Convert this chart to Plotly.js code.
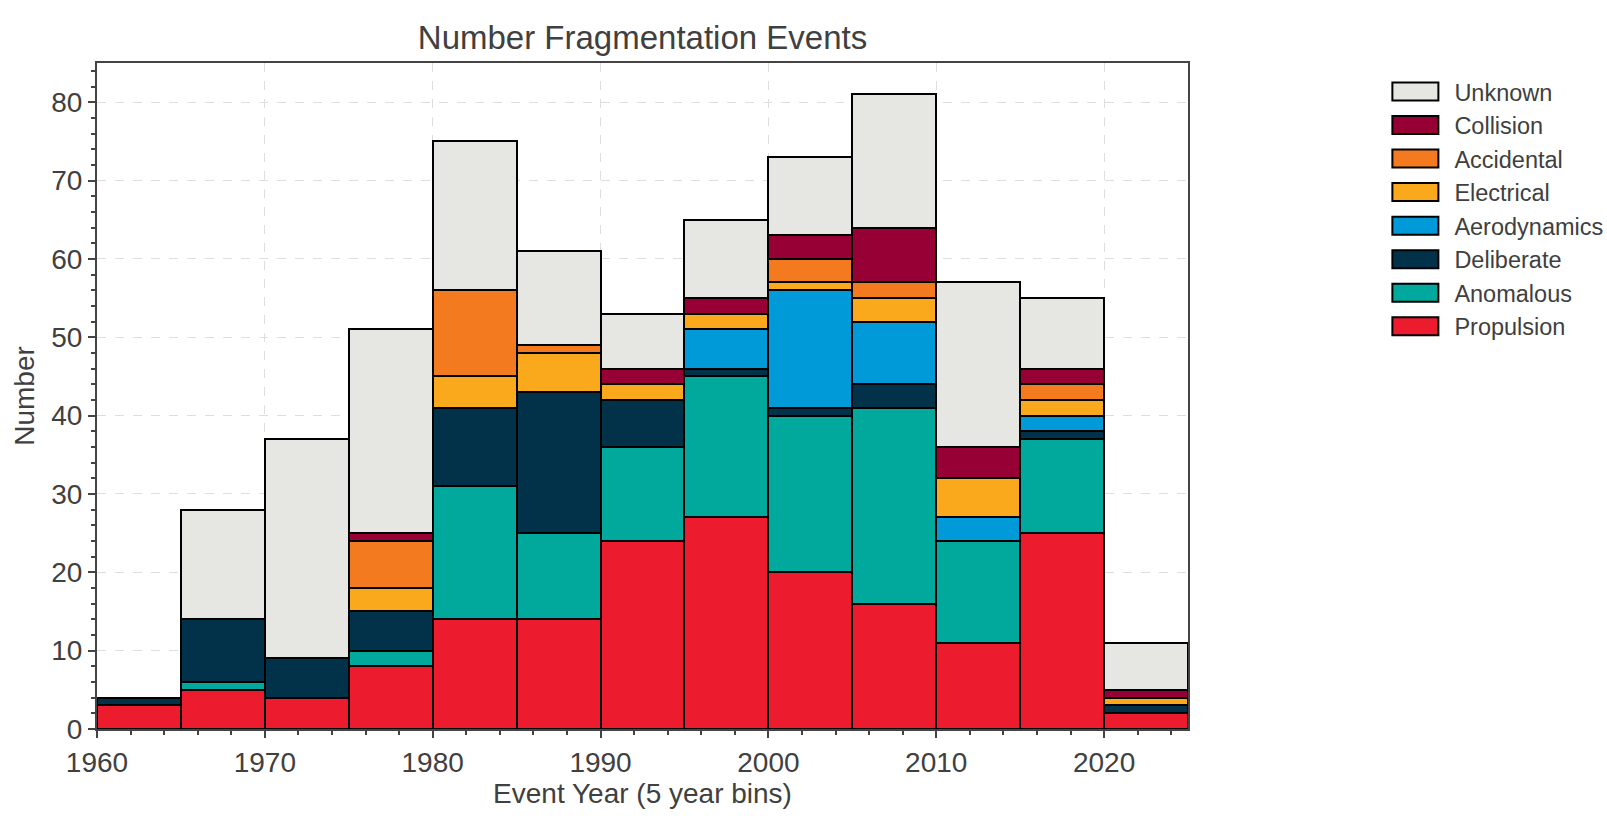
<!DOCTYPE html>
<html>
<head>
<meta charset="utf-8">
<script src="https://cdn.plot.ly/plotly-3.0.1.min.js"></script>
<style>
  html, body { margin: 0; padding: 0; background: #fff; }
  #plot { width: 1607px; height: 831px; }
</style>
</head>
<body>
<div id="plot"></div>
<script>
// 5 year bins, start year of each bin
const binStart = [1960, 1965, 1970, 1975, 1980, 1985, 1990, 1995, 2000, 2005, 2010, 2015, 2020];
const binWidth = 5;

// counts per cause (stacked bottom -> top)
const propulsion   = [3, 5, 4, 8, 14, 14, 24, 27, 20, 16, 11, 25, 2];
const anomalous    = [0, 1, 0, 2, 17, 11, 12, 18, 20, 25, 13, 12, 0];
const deliberate   = [1, 8, 5, 5, 10, 18, 6, 1, 1, 3, 0, 1, 1];
const aerodynamics = [0, 0, 0, 0, 0, 0, 0, 5, 15, 8, 3, 2, 0];
const electrical   = [0, 0, 0, 3, 4, 5, 2, 2, 1, 3, 5, 2, 1];
const accidental   = [0, 0, 0, 6, 11, 1, 0, 0, 3, 2, 0, 2, 0];
const collision    = [0, 0, 0, 1, 0, 0, 2, 2, 3, 7, 4, 2, 1];
const unknown      = [0, 14, 28, 26, 19, 12, 7, 10, 10, 17, 21, 9, 6];

const seriesNames  = ["Propulsion", "Anomalous", "Deliberate", "Aerodynamics", "Electrical", "Accidental", "Collision", "Unknown"];
const seriesValues = [propulsion, anomalous, deliberate, aerodynamics, electrical, accidental, collision, unknown];
const seriesColors = ["#ec1c2e", "#00a99c", "#02324a", "#009ad9", "#f9a91b", "#f47a20", "#960034", "#e6e6e2"];

const centers = binStart.map(s => s + binWidth / 2);
const textColor = "#404040";

const traces = seriesNames.map((name, i) => ({
  type: "bar",
  name: name,
  x: centers,
  y: seriesValues[i],
  width: binWidth,
  marker: { color: seriesColors[i], line: { color: "#000", width: 2 } },
  hoverinfo: "skip"
}));

const layout = {
  width: 1607,
  height: 831,
  barmode: "stack",
  bargap: 0,
  paper_bgcolor: "#fff",
  plot_bgcolor: "#fff",
  font: { family: "Liberation Sans, Arial, sans-serif", color: textColor, size: 28 },
  margin: { l: 97, r: 419, t: 63, b: 102, autoexpand: false },
  title: {
    text: "Number Fragmentation Events",
    font: { size: 33, color: textColor },
    x: 0.5, xref: "paper", xanchor: "center",
    y: 1, yref: "paper", yanchor: "bottom",
    pad: { b: 14 }
  },
  xaxis: {
    range: [1960, 2025],
    tick0: 1960, dtick: 10,
    ticks: "outside", ticklen: 7, tickwidth: 2, tickcolor: "#444",
    minor: { tick0: 1960, dtick: 2, ticks: "outside", ticklen: 4, tickwidth: 2, tickcolor: "#444", showgrid: false },
    showline: true, linecolor: "#444", linewidth: 2, mirror: true,
    showgrid: true, gridcolor: "#dedede", gridwidth: 1, griddash: "dash",
    zeroline: false,
    tickfont: { size: 28, color: textColor },
    title: { text: "Event Year (5 year bins)", font: { size: 28, color: textColor }, standoff: 4 }
  },
  yaxis: {
    range: [0, 85],
    tick0: 0, dtick: 10,
    ticks: "outside", ticklen: 7, tickwidth: 2, tickcolor: "#444",
    minor: { tick0: 0, dtick: 2, ticks: "outside", ticklen: 4, tickwidth: 2, tickcolor: "#444", showgrid: false },
    showline: true, linecolor: "#444", linewidth: 2, mirror: true,
    showgrid: true, gridcolor: "#dedede", gridwidth: 1, griddash: "dash",
    zeroline: false,
    tickfont: { size: 28, color: textColor },
    title: { text: "Number", font: { size: 28, color: textColor }, standoff: 8 }
  },
  legend: {
    x: 1.18, xanchor: "left",
    y: 0.99, yanchor: "top",
    traceorder: "reversed",
    font: { size: 23.5, color: textColor },
    bgcolor: "rgba(0,0,0,0)",
    itemwidth: 60
  },
  showlegend: true
};

Plotly.newPlot("plot", traces, layout, { displayModeBar: false, staticPlot: true }).then(gd => {
  // wider, flatter legend swatches like the original
  gd.querySelectorAll(".legend .legendpoints path").forEach(p => {
    p.setAttribute("d", "M-27,-9H19V9H-27Z");
    p.style.strokeWidth = "2px";
  });
});
</script>
</body>
</html>
